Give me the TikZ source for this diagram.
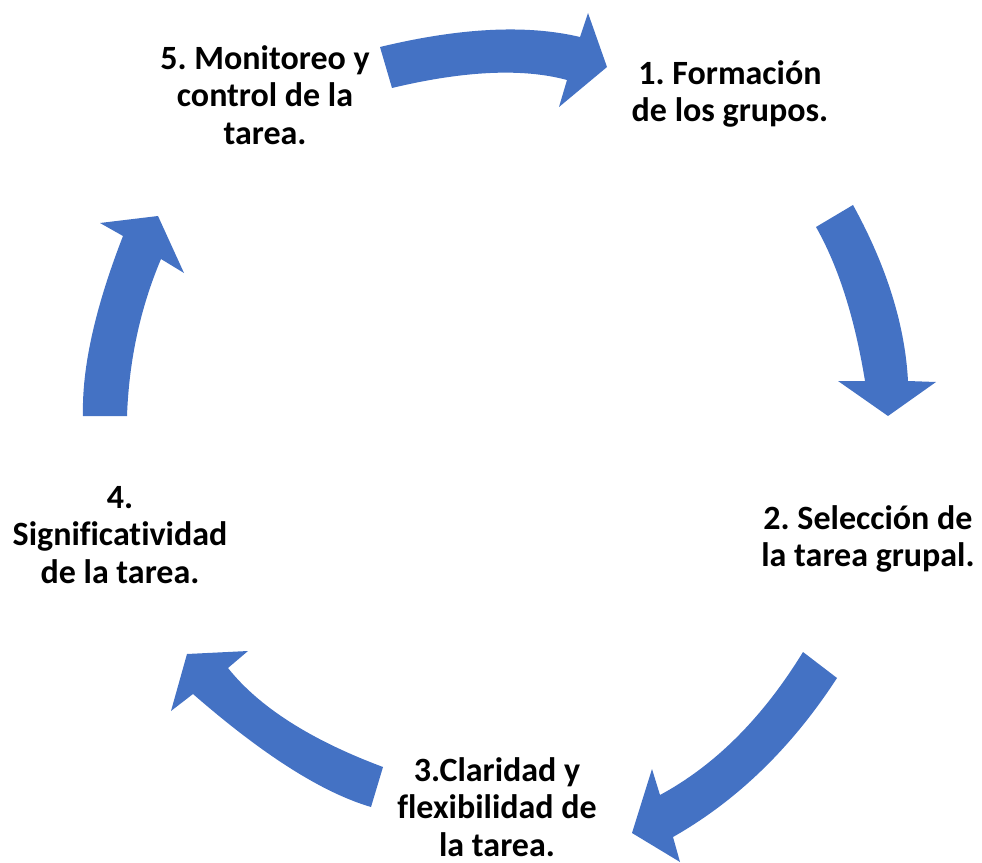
\documentclass[tikz,border=0pt]{standalone}
\usepackage{fontspec}
\setmainfont[Ligatures={NoCommon}]{Carlito}
\definecolor{arrowblue}{HTML}{4472C4}
\begin{document}
\begin{tikzpicture}[x=0.75pt,y=-0.75pt,
  blockarrow/.style={fill=arrowblue, draw=none},
  lbl/.style={font=\frenchspacing\bfseries\fontsize{25.5}{28.1}\selectfont, align=center, inner sep=0pt, text=black}]
\useasboundingbox (0,0) rectangle (982,863);

% labels
\node[lbl] (n1) at (730,94) {1. Formación\\de los grupos.};
\node[lbl] (n2) at (868,539) {2. Selección de\\la tarea grupal.};
\node[lbl] (n3) at (497,807) {3.Claridad y\\flexibilidad de\\la tarea.};
\node[lbl] (n4) at (120,535) {4.\\Significatividad\\de la tarea.};
\node[lbl] (n5) at (265,95) {5. Monitoreo y\\control de la\\tarea.};

% 5 -> 1 (top)
\fill[blockarrow] (380,47) .. controls (460,27.7) and (526.7,24.3) .. (580,37)
  -- (588,13) -- (607,67) -- (559,107) -- (567,80)
  .. controls (522.7,68) and (464.3,70.7) .. (392,88) -- cycle;

% 1 -> 2 (right)
\fill[blockarrow] (853,205) .. controls (886.7,266.3) and (905,325) .. (908,381)
  -- (936,382) -- (888,416) -- (838,381) -- (865,381)
  .. controls (854.7,317.7) and (838.3,266.3) .. (816,227) -- cycle;

% 2 -> 3 (bottom right)
\fill[blockarrow] (837,678) .. controls (791.7,747.7) and (737,800.7) .. (673,837)
  -- (680,862) -- (632,833) -- (652,769) -- (660,795)
  .. controls (715,765.3) and (762.7,717.7) .. (803,652) -- cycle;

% 3 -> 4 (bottom left)
\fill[blockarrow] (371,807) .. controls (322.3,792.7) and (263,755) .. (193,694)
  -- (171,711) -- (187,654) -- (248,651) -- (228,668)
  .. controls (259,707) and (310.7,740) .. (383,767) -- cycle;

% 4 -> 5 (left)
\fill[blockarrow] (83,416) .. controls (81.7,368) and (95,308) .. (123,236)
  -- (100,223) -- (158,216) -- (184,273) -- (161,259)
  .. controls (140.3,308) and (129,360.3) .. (127,416) -- cycle;
\end{tikzpicture}
\end{document}
